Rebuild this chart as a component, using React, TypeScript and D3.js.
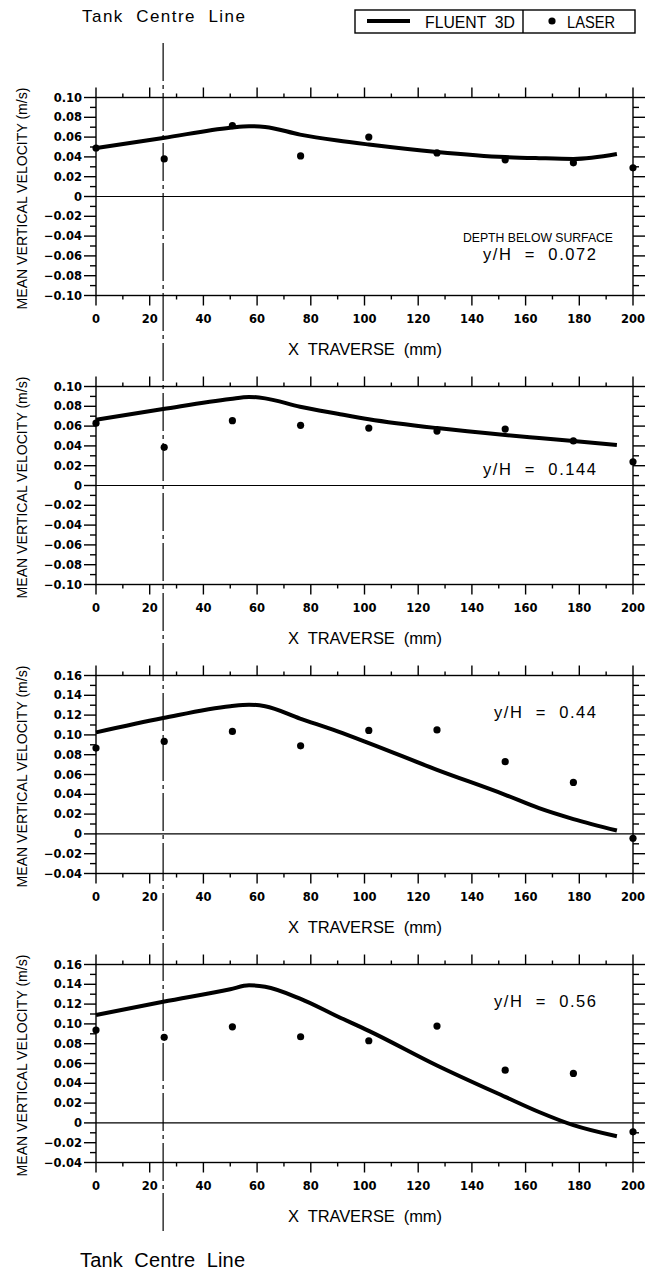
import React from 'react';
import * as d3 from 'd3';

// ---- data ----
const laserX = [0, 25.4, 50.8, 76.2, 101.6, 127, 152.4, 177.8, 200];
const laserP1 = [0.049, 0.038, 0.0715, 0.041, 0.060, 0.044, 0.037, 0.034, 0.029];
const laserP2 = [0.063, 0.0386, 0.0655, 0.0608, 0.058, 0.055, 0.057, 0.045, 0.024];
const laserP3 = [0.0867, 0.0934, 0.1035, 0.089, 0.1045, 0.105, 0.073, 0.052, -0.0044];
const laserP4 = [0.0938, 0.0864, 0.097, 0.087, 0.083, 0.0978, 0.0533, 0.050, -0.009];

const fluentX = [0, 25, 50, 57, 63, 76, 90, 101.6, 127, 152.4, 165, 177.8, 194];
const fluentP1 = [0.049, 0.059, 0.0695, 0.071, 0.0703, 0.0625, 0.0565, 0.0525, 0.045, 0.0398, 0.0387, 0.038, 0.043];
const fluentP2 = [0.0665, 0.0773, 0.0874, 0.0895, 0.088, 0.0795, 0.0725, 0.067, 0.058, 0.051, 0.048, 0.045, 0.041];
const fluentP3 = [0.1025, 0.117, 0.129, 0.1305, 0.129, 0.1165, 0.1035, 0.0917, 0.0647, 0.0395, 0.026, 0.015, 0.0034];
const fluentP4 = [0.109, 0.1224, 0.135, 0.139, 0.1375, 0.1255, 0.1075, 0.093, 0.058, 0.0263, 0.011, -0.0023, -0.0135];

const yDomains: [number, number][] = [[-0.1, 0.1], [-0.1, 0.1], [-0.04, 0.16], [-0.04, 0.16]];
const depthLabels = ['y/H  =  0.072', 'y/H  =  0.144', 'y/H  =  0.44', 'y/H  =  0.56'];
const xDomain: [number, number] = [0, 200];
const xMajorTicks = [0, 20, 40, 60, 80, 100, 120, 140, 160, 180, 200];
const xMinorTicks = [10, 30, 50, 70, 90, 110, 130, 150, 170, 190];
const centreLineX = 25;

const laserSeries = [laserP1, laserP2, laserP3, laserP4];
const fluentSeries = [fluentP1, fluentP2, fluentP3, fluentP4];

// ---- layout ----
const W = 647, H = 1272;
const left = 96, right = 633;
const panelTops = [97.5, 386.5, 675.5, 964.5];
const panelH = 198;

const fmtY = (v: number) => (Math.abs(v) < 1e-9 ? '0' : d3.format('.2f')(v).replace('-', '\u2212'));

function Panel({ idx }: { idx: number }) {
  const top = panelTops[idx];
  const bottom = top + panelH;
  const x = d3.scaleLinear().domain(xDomain).range([left, right]);
  const y = d3.scaleLinear().domain(yDomains[idx]).range([bottom, top]);
  const [y0, y1] = yDomains[idx];
  const yMajor = d3.range(Math.round(y0 * 100), Math.round(y1 * 100) + 1, 2).map((v) => v / 100);
  const yMinor = d3.range(Math.round(y0 * 100) + 1, Math.round(y1 * 100), 2).map((v) => v / 100);
  const line = d3
    .line<number>()
    .x((_, i) => x(fluentX[i]))
    .y((d) => y(d))
    .curve(d3.curveMonotoneX);
  const fluent = fluentSeries[idx];
  const laser = laserSeries[idx];
  const sw = 1.4;
  const textY = [260, 475, 718, 1007][idx];
  return (
    <g>
      <rect x={left} y={top} width={right - left} height={panelH} fill="none" stroke="#000" strokeWidth={sw} />
      <line x1={left} x2={right} y1={y(0)} y2={y(0)} stroke="#000" strokeWidth={1.2} />
      {xMajorTicks.map((t) => (
        <g key={'xm' + t}>
          <line x1={x(t)} x2={x(t)} y1={top} y2={top - 10} stroke="#000" strokeWidth={sw} />
          <line x1={x(t)} x2={x(t)} y1={bottom} y2={bottom + 10} stroke="#000" strokeWidth={sw} />
          <text x={x(t)} y={bottom + 27} textAnchor="middle" fontFamily="DejaVu Sans" fontWeight="bold" fontSize={11.5}>
            {t}
          </text>
        </g>
      ))}
      {xMinorTicks.map((t) => (
        <g key={'xn' + t}>
          <line x1={x(t)} x2={x(t)} y1={top} y2={top - 4} stroke="#000" strokeWidth={sw} />
          <line x1={x(t)} x2={x(t)} y1={bottom} y2={bottom + 4} stroke="#000" strokeWidth={sw} />
        </g>
      ))}
      {yMajor.map((t) => (
        <g key={'ym' + t}>
          <line x1={left} x2={left - 12} y1={y(t)} y2={y(t)} stroke="#000" strokeWidth={sw} />
          <line x1={right} x2={right + 12} y1={y(t)} y2={y(t)} stroke="#000" strokeWidth={sw} />
          <text x={82} y={y(t) + 4} textAnchor="end" fontFamily="DejaVu Sans" fontWeight="bold" fontSize={11.5}>
            {fmtY(t)}
          </text>
        </g>
      ))}
      {yMinor.map((t) => (
        <g key={'yn' + t}>
          <line x1={left} x2={left - 6} y1={y(t)} y2={y(t)} stroke="#000" strokeWidth={sw} />
          <line x1={right} x2={right + 6} y1={y(t)} y2={y(t)} stroke="#000" strokeWidth={sw} />
        </g>
      ))}
      <path d={line(fluent) || ''} fill="none" stroke="#000" strokeWidth={4} strokeLinejoin="round" />
      {laser.map((v, i) => (
        <circle key={'p' + i} cx={x(laserX[i])} cy={y(v)} r={3.6} fill="#000" />
      ))}
      <text
        x={365}
        y={top + 257}
        textAnchor="middle"
        fontFamily="Liberation Sans"
        fontSize={16.5}
        textLength={154}
        style={{ whiteSpace: 'pre' }}
      >
        {'X  TRAVERSE  (mm)'}
      </text>
      <text
        transform={`translate(27,${top + panelH / 2 + 2}) rotate(-90)`}
        textAnchor="middle"
        fontFamily="Liberation Sans"
        fontSize={15}
        textLength={222}
        lengthAdjust="spacingAndGlyphs"
      >
        MEAN VERTICAL VELOCITY (m/s)
      </text>
      {idx === 0 && (
        <text x={463} y={242} fontFamily="Liberation Sans" fontSize={13.5} textLength={150} lengthAdjust="spacingAndGlyphs">
          DEPTH BELOW SURFACE
        </text>
      )}
      <text
        x={596}
        y={textY}
        textAnchor="end"
        fontFamily="Liberation Sans"
        fontSize={16.5}
        style={{ whiteSpace: 'pre' }}
        textLength={idx < 2 ? 113 : 102}
      >
        {depthLabels[idx]}
      </text>
    </g>
  );
}

export default function App() {
  const x = d3.scaleLinear().domain(xDomain).range([left, right]);
  const cx = x(centreLineX);
  return (
    <svg width={W} height={H} style={{ position: 'absolute', left: 0, top: 0, background: '#fff' }}>
      <rect width={W} height={H} fill="#fff" />
      <line x1={cx} x2={cx} y1={43} y2={1233} stroke="#000" strokeWidth={1.2} strokeDasharray="38 4 4 4" />
      <text x={82} y={22} fontFamily="Liberation Sans" fontSize={17} textLength={163} style={{ whiteSpace: 'pre' }}>
        {'Tank  Centre  Line'}
      </text>
      <text x={80} y={1267} fontFamily="Liberation Sans" fontSize={20} textLength={165} style={{ whiteSpace: 'pre' }}>
        {'Tank  Centre  Line'}
      </text>
      <g>
        <rect x={355} y={10} width={280} height={23} fill="#fff" stroke="#000" strokeWidth={1.4} />
        <line x1={523} x2={523} y1={10} y2={33} stroke="#000" strokeWidth={1.4} />
        <line x1={367} x2={410} y1={21} y2={21} stroke="#000" strokeWidth={4} />
        <text x={425} y={28} fontFamily="Liberation Sans" fontSize={17} textLength={90} lengthAdjust="spacingAndGlyphs" style={{ whiteSpace: 'pre' }}>
          {'FLUENT  3D'}
        </text>
        <circle cx={552} cy={21} r={3.6} fill="#000" />
        <text x={567} y={28} fontFamily="Liberation Sans" fontSize={17} textLength={48} lengthAdjust="spacingAndGlyphs">
          LASER
        </text>
      </g>
      {[0, 1, 2, 3].map((i) => (
        <Panel key={i} idx={i} />
      ))}
    </svg>
  );
}
